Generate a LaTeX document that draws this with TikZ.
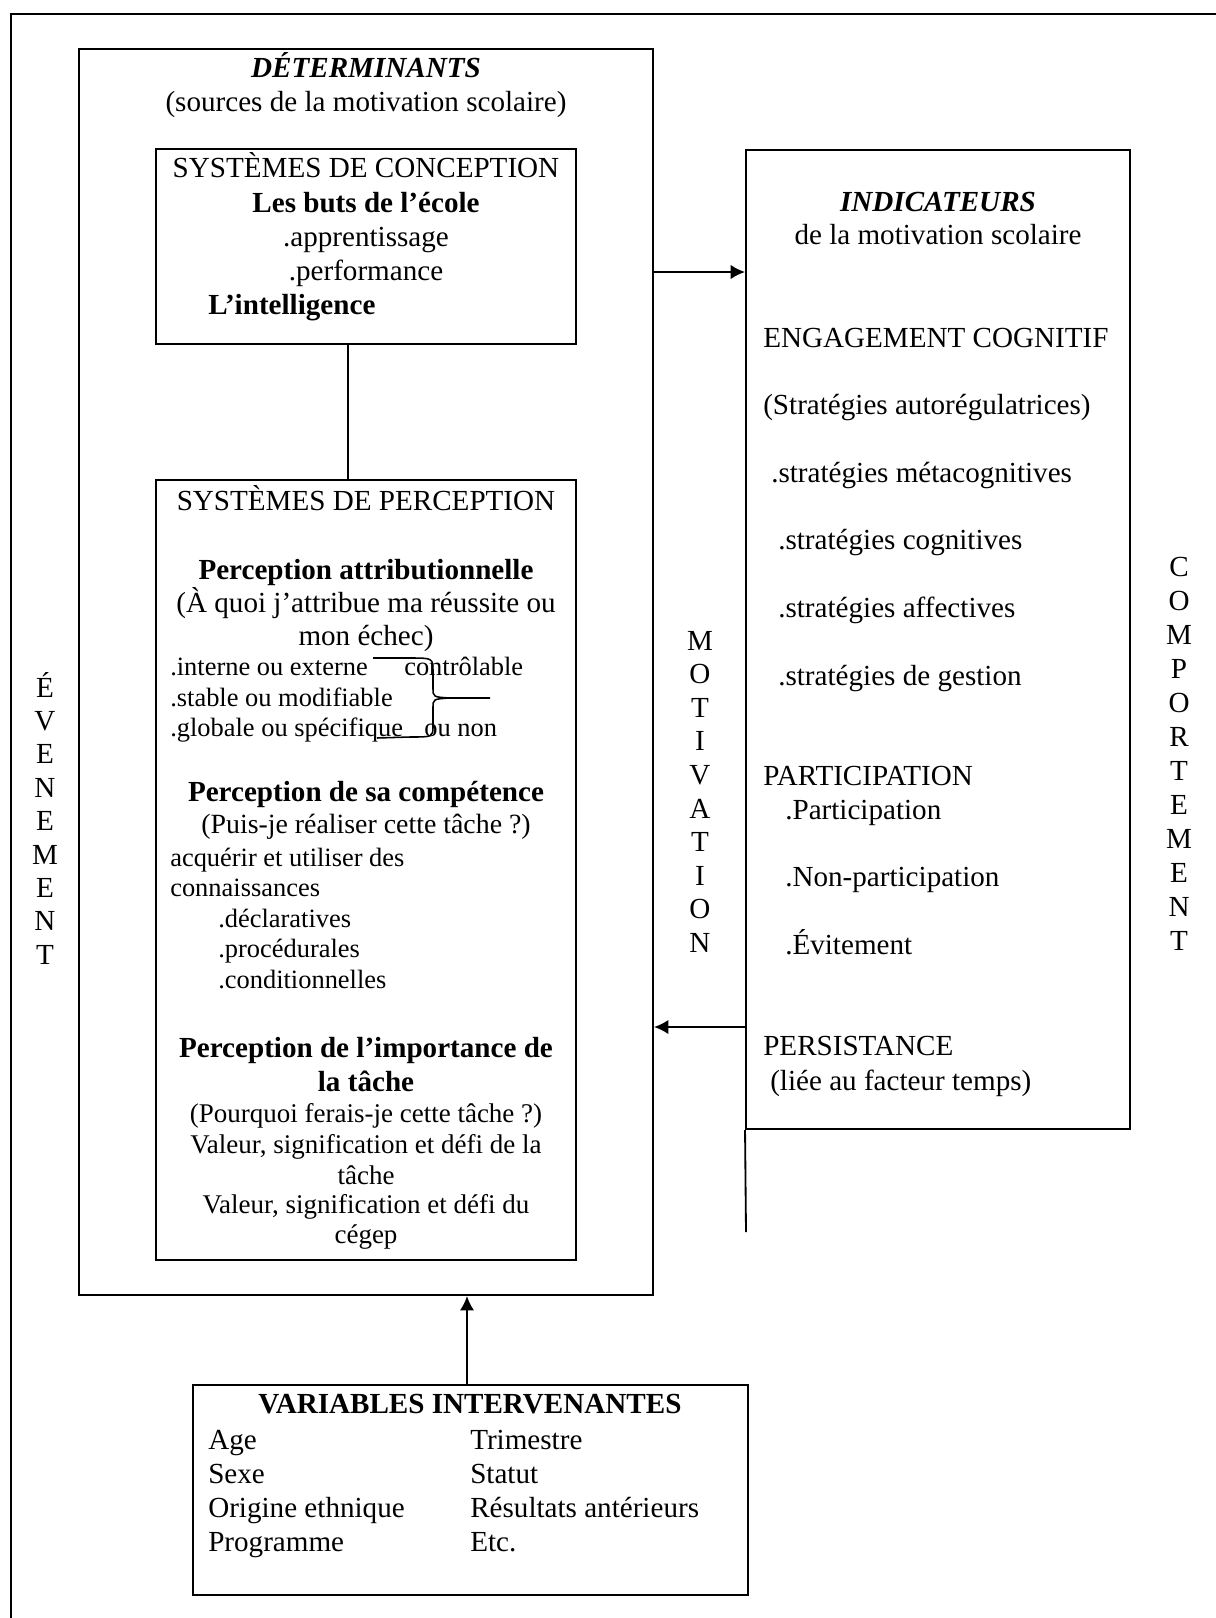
\documentclass[tikz,border=0pt]{standalone}
\usepackage{fontspec}
\setmainfont{Liberation Serif}
\usetikzlibrary{arrows.meta}
\tikzset{
  box/.style={draw, line width=1.3pt, inner sep=0pt},
  big/.style={inner sep=0pt, font=\fontsize{20.7}{24}\selectfont},
  sml/.style={inner sep=0pt, font=\fontsize{18.8}{22}\selectfont},
  mid/.style={inner sep=0pt, font=\fontsize{19.2}{22}\selectfont},
}
\begin{document}
\begin{tikzpicture}[x=0.025cm, y=-0.025cm]
	\useasboundingbox (0,0) rectangle (1216,1618);
	% cadre
	\draw[line width=2pt] (11,1618) -- (11,14) -- (1216,14);
	% boites
	\node[box, minimum width=14.35cm, minimum height=31.15cm] (det) at (366,672) {};
	\node[box, minimum width=10.5cm, minimum height=4.875cm] (conc) at (366,246.5) {};
	\node[box, minimum width=10.5cm, minimum height=19.5cm] (perc) at (366,870) {};
	\node[box, minimum width=9.6cm, minimum height=24.475cm] (ind) at (938,639.5) {};
	\node[box, minimum width=13.875cm, minimum height=5.25cm] (var) at (470.5,1490) {};
	\coordinate (indend) at (746,1232);
	\coordinate (lien) at (348,400);
	\draw[line width=1.3pt] (ind.south west) -- (indend);
	\draw[line width=1.3pt] (conc.south -| lien) -- (perc.north -| lien);
	% determinants
	\node[big, anchor=base] (d1) at (366,77) {\textbf{\textit{DÉTERMINANTS}}};
	\node[big, anchor=base] (d2) at (366,111) {(sources de la motivation scolaire)};
	\node[big, anchor=base] (c1) at (366,177) {SYSTÈMES DE CONCEPTION};
	\node[big, anchor=base] (c2) at (366,212) {\textbf{Les buts de l’école}};
	\node[big, anchor=base] (c3) at (366,246) {.apprentissage};
	\node[big, anchor=base] (c4) at (366,280) {.performance};
	\node[big, anchor=base west] (c5) at (208,314) {\textbf{L’intelligence}};
	\node[big, anchor=base] (p1) at (366,510) {SYSTÈMES DE PERCEPTION};
	\node[big, anchor=base] (p2) at (366,579) {\textbf{Perception attributionnelle}};
	\node[big, anchor=base] (p3) at (366,612) {(À quoi j’attribue ma réussite ou};
	\node[big, anchor=base] (p4) at (366,645) {mon échec)};
	\node[sml, anchor=base west] (p5) at (170,675) {.interne ou externe};
	\node[sml, anchor=base west] (p6) at (404,675) {contrôlable};
	\node[sml, anchor=base west] (p7) at (170,706) {.stable ou modifiable};
	\node[sml, anchor=base west] (p8) at (170,736) {.globale ou spécifique};
	\node[sml, anchor=base west] (p9) at (424,736) {ou non};
	\draw[line width=1.1pt] (373,658) -- (410,658) .. controls (433,658) .. (433,672) -- (433,688)
		.. controls (433,697) .. (450,698) -- (490,698);
	\draw[line width=1.1pt] (450,698) .. controls (433,699) .. (433,708) -- (433,726)
		.. controls (433,737) .. (410,737) -- (377,738);
	\node[big, anchor=base] (p10) at (366,801) {\textbf{Perception de sa compétence}};
	\node[mid, font=\fontsize{19.8}{22}\selectfont, anchor=base] (p11) at (366,833) {(Puis-je réaliser cette tâche ?)};
	\node[sml, anchor=base west] (p12) at (170,866) {acquérir et utiliser des};
	\node[sml, anchor=base west] (p13) at (170,896) {connaissances};
	\node[sml, anchor=base west] (p14) at (218,927) {.déclaratives};
	\node[sml, anchor=base west] (p15) at (218,957) {.procédurales};
	\node[sml, anchor=base west] (p16) at (218,988) {.conditionnelles};
	\node[big, anchor=base] (p17) at (366,1057) {\textbf{Perception de l’importance de}};
	\node[big, anchor=base] (p18) at (366,1091) {\textbf{la tâche}};
	\node[mid, anchor=base] (p19) at (366,1122) {(Pourquoi ferais-je cette tâche ?)};
	\node[mid, anchor=base] (p20) at (366,1153) {Valeur, signification et défi de la};
	\node[mid, anchor=base] (p21) at (366,1184) {tâche};
	\node[mid, anchor=base] (p22) at (366,1213) {Valeur, signification et défi du};
	\node[mid, anchor=base] (p23) at (366,1243) {cégep};
	% indicateurs
	\node[big, anchor=base] (i1) at (938,211) {\textbf{\textit{INDICATEURS}}};
	\node[big, anchor=base] (i2) at (938,244) {de la motivation scolaire};
	\node[big, anchor=base west] (i3) at (763,347) {ENGAGEMENT COGNITIF};
	\node[big, anchor=base west] (i4) at (763,414) {(Stratégies autorégulatrices)};
	\node[big, anchor=base west] (i5) at (771,482) {.stratégies métacognitives};
	\node[big, anchor=base west] (i6) at (778,549) {.stratégies cognitives};
	\node[big, anchor=base west] (i7) at (778,617) {.stratégies affectives};
	\node[big, anchor=base west] (i8) at (778,685) {.stratégies de gestion};
	\node[big, anchor=base west] (i9) at (763,785) {PARTICIPATION};
	\node[big, anchor=base west] (i10) at (785,819) {.Participation};
	\node[big, anchor=base west] (i11) at (785,886) {.Non-participation};
	\node[big, anchor=base west] (i12) at (785,954) {.Évitement};
	\node[big, anchor=base west] (i13) at (763,1055) {PERSISTANCE};
	\node[big, anchor=base west] (i14) at (770,1090) {(liée au facteur temps)};
	% variables
	\node[big, anchor=base] (v1) at (470,1413) {\textbf{VARIABLES INTERVENANTES}};
	\node[big, anchor=base west] (v2) at (208,1449) {Age};
	\node[big, anchor=base west] (v3) at (208,1483) {Sexe};
	\node[big, anchor=base west] (v4) at (208,1517) {Origine ethnique};
	\node[big, anchor=base west] (v5) at (208,1551) {Programme};
	\node[big, anchor=base west] (v6) at (470,1449) {Trimestre};
	\node[big, anchor=base west] (v7) at (470,1483) {Statut};
	\node[big, anchor=base west] (v8) at (470,1517) {Résultats antérieurs};
	\node[big, anchor=base west] (v9) at (470,1551) {Etc.};
	% lettres verticales
	\foreach \l [count=\k from 0] in {É,V,E,N,E,M,E,N,T}
		\node[big, anchor=base] (ev\k) at (45,{697+33.4*\k}) {\l};
	\foreach \l [count=\k from 0] in {M,O,T,I,V,A,T,I,O,N}
		\node[big, anchor=base] (mo\k) at (700,{650+33.6*\k}) {\l};
	\foreach \l [count=\k from 0] in {C,O,M,P,O,R,T,E,M,E,N,T}
		\node[big, anchor=base] (co\k) at (1179,{576+34*\k}) {\l};
	% fleches
	\coordinate (a1) at (653,272);
	\coordinate (a2) at (746,1027);
	\coordinate (a3) at (467,1385);
	\path[-{Latex[length=3.6mm,width=3.6mm]}, line width=1.3pt]
		(a1) edge (ind.west |- a1)
		(a2) edge (det.east |- a2)
		(a3) edge (det.south -| a3);
\end{tikzpicture}
\end{document}
